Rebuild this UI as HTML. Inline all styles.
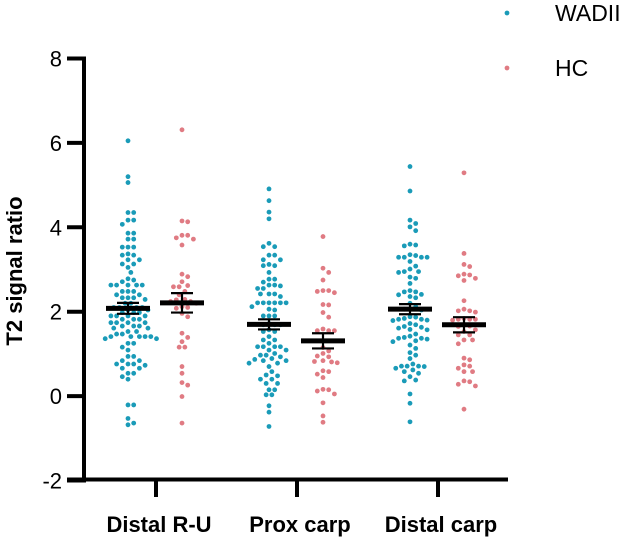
<!DOCTYPE html>
<html><head><meta charset="utf-8">
<style>
html,body{margin:0;padding:0;background:#fff;}
svg{display:block;font-family:"Liberation Sans",Arial,sans-serif;}
</style></head>
<body>
<svg id="chart" width="638" height="541" viewBox="0 0 638 541"></svg>
<script>
const categories = ["Distal R-U", "Prox carp", "Distal carp"];
const seriesNames = ["WADII", "HC"];
const yTicks = [-2, 0, 2, 4, 6, 8];
const wadiiDistalRU = [6.05,5.20,5.06,4.35,4.35,4.17,4.17,4.07,3.86,3.86,3.72,3.72,3.53,3.53,3.53,3.37,3.34,3.34,3.23,3.23,3.13,3.13,3.05,2.93,2.78,2.75,2.71,2.63,2.63,2.63,2.63,2.63,2.48,2.48,2.48,2.40,2.40,2.33,2.33,2.33,2.29,2.20,2.20,2.10,2.10,2.10,2.10,2.04,2.04,1.98,1.98,1.98,1.90,1.90,1.90,1.90,1.82,1.82,1.82,1.74,1.74,1.74,1.74,1.66,1.66,1.66,1.61,1.61,1.53,1.53,1.47,1.47,1.41,1.41,1.41,1.41,1.41,1.36,1.36,1.25,1.25,1.16,1.09,0.94,0.94,0.84,0.84,0.76,0.76,0.76,0.73,0.66,0.66,0.54,0.54,0.46,0.40,-0.21,-0.21,-0.53,-0.64,-0.68];
const hcDistalRU = [6.31,4.15,4.13,3.81,3.81,3.72,3.75,3.58,2.89,2.83,2.71,2.59,2.59,2.62,2.48,2.40,2.29,2.28,2.24,2.24,2.20,2.12,2.10,2.08,1.96,1.88,1.49,1.39,1.29,1.16,1.16,0.70,0.54,0.32,0.26,-0.01,-0.64];
const wadiiProx = [4.91,4.63,4.36,4.20,3.62,3.54,3.54,3.34,3.34,3.23,3.23,3.09,3.09,3.12,2.93,2.77,2.77,2.70,2.63,2.63,2.61,2.55,2.55,2.42,2.42,2.42,2.36,2.21,2.21,2.21,2.21,2.21,2.21,2.12,2.06,2.04,1.90,1.90,1.90,1.72,1.69,1.69,1.69,1.57,1.53,1.53,1.41,1.33,1.33,1.25,1.17,1.17,1.17,1.17,1.09,1.09,1.01,0.97,0.97,0.93,0.89,0.87,0.84,0.84,0.78,0.78,0.70,0.58,0.50,0.48,0.40,0.40,0.30,0.30,0.15,0.15,0.03,0.03,-0.23,-0.38,-0.72];
const hcProx = [3.78,3.03,2.93,2.75,2.50,2.50,2.45,2.48,2.16,2.17,1.98,1.87,1.59,1.55,1.55,1.55,1.15,1.07,1.01,0.93,0.95,0.81,0.82,0.84,0.79,0.58,0.52,0.60,0.44,0.15,0.16,0.12,0.05,-0.16,-0.47,-0.62];
const wadiiDistalCarp = [5.44,4.86,4.17,4.01,4.09,3.92,3.60,3.56,3.58,3.35,3.29,3.29,3.29,3.33,3.29,3.19,3.08,3.01,2.93,2.95,2.95,2.82,2.79,2.67,2.47,2.50,2.40,2.41,2.47,2.36,2.33,2.20,2.12,2.06,2.06,2.04,1.88,1.84,1.82,1.82,1.87,1.79,1.80,1.72,1.69,1.65,1.61,1.63,1.58,1.57,1.47,1.42,1.39,1.37,1.37,1.35,1.31,1.29,1.21,1.13,1.03,0.97,0.89,0.71,0.71,0.71,0.76,0.70,0.66,0.62,0.58,0.54,0.46,0.38,0.36,0.05,-0.17,-0.61];
const hcDistalCarp = [5.29,3.38,3.12,3.07,2.89,2.87,2.85,2.79,2.74,2.26,2.02,2.02,1.99,2.06,1.84,1.82,1.82,1.80,1.82,1.69,1.66,1.65,1.57,1.53,1.45,1.45,1.33,1.33,1.24,0.90,0.86,0.74,0.71,0.66,0.58,0.58,0.36,0.28,0.24,0.34,-0.31];
const means = [[2.08, 2.21], [1.70, 1.31], [2.06, 1.69]];
const sems = [[0.13, 0.23], [0.12, 0.18], [0.12, 0.18]];
const groups = [[wadiiDistalRU, hcDistalRU], [wadiiProx, hcProx], [wadiiDistalCarp, hcDistalCarp]];

const NS = "http://www.w3.org/2000/svg";
const svg = document.getElementById("chart");
const colors = ["#1a9bb8", "#e07b83"];
const X0 = 84, X1 = 508, Ytop = 58.5, Ybot = 480.5;
const yMin = -2, yMax = 8;
function yScale(v){ return Ybot - (v - yMin) / (yMax - yMin) * (Ybot - Ytop); }
const catTicks = [156, 297, 438];
function xCat(i){ return catTicks[i]; }
const seriesOffset = [-28, 26];
function el(tag, attrs, parent){
  const e = document.createElementNS(NS, tag);
  for (const k in attrs) e.setAttribute(k, attrs[k]);
  (parent || svg).appendChild(e);
  return e;
}

const R = 2.4, D = 5.5, STEP = 2.85;
groups.forEach((pair, ci) => {
  pair.forEach((vals, si) => {
    const g = el("g", {});
    
    
    const cx0 = xCat(ci) + seriesOffset[si];
    const placed = [];
    const sorted = vals.map(v => v).sort((a, b) => b - a);
    sorted.forEach(v => {
      const cy = yScale(v);
      let cx = cx0;
      for (let k = 0; k < 40; k++) {
        const off = (k === 0) ? 0 : (k % 2 ? 1 : -1) * Math.ceil(k / 2) * STEP;
        const tx = cx0 + off;
        if (placed.every(p => (p[0]-tx)*(p[0]-tx) + (p[1]-cy)*(p[1]-cy) >= D*D)) { cx = tx; break; }
      }
      placed.push([cx, cy]);
      const c = el("circle", {cx: cx.toFixed(2), cy: cy.toFixed(2), r: R, fill: colors[si]}, g);
      
      
    });
    const m = yScale(means[ci][si]);
    const hi = yScale(means[ci][si] + sems[ci][si]);
    const lo = yScale(means[ci][si] - sems[ci][si]);
    const ml = el("line", {x1: cx0 - 22, x2: cx0 + 22, y1: m, y2: m, stroke: "#000", "stroke-width": 5});
    
    
    const eb = el("path", {d: `M${cx0} ${hi}V${lo}M${cx0-11} ${hi}H${cx0+11}M${cx0-11} ${lo}H${cx0+11}`, stroke: "#000", "stroke-width": 2.2, fill: "none"});
    
    
  });
});

const yAxis = el("line", {x1: X0, x2: X0, y1: Ytop - 2, y2: Ybot + 2, stroke: "#000", "stroke-width": 4});


const xAxis = el("line", {x1: 67, x2: X1, y1: Ybot - 1, y2: Ybot - 1, stroke: "#000", "stroke-width": 4});


yTicks.forEach(t => {
  const y = yScale(t);
  const tk = el("line", {x1: 67, x2: X0, y1: y, y2: y, stroke: "#000", "stroke-width": 4});
  
  
  const tx = el("text", {x: 62, y: y + 8, "text-anchor": "end", "font-size": 22, fill: "#000"});
  tx.textContent = String(t);
  
  
});
categories.forEach((c, i) => {
  const x = xCat(i);
  const tk = el("line", {x1: x, x2: x, y1: Ybot, y2: 497, stroke: "#000", "stroke-width": 4});
  
  
  const tx = el("text", {x: x + 3, y: 532, "text-anchor": "middle", "font-size": 22, "font-weight": "bold", fill: "#000"});
  tx.textContent = c;
  
  
});
const yt = el("text", {x: 0, y: 0, transform: "translate(22,271) rotate(-90)", "text-anchor": "middle", "font-size": 22, "font-weight": "bold", fill: "#000"});
yt.textContent = "T2 signal ratio";



seriesNames.forEach((n, i) => {
  const y = [13, 68][i];
  const g = el("g", {});
  
  
  el("circle", {cx: 507, cy: y, r: 2.4, fill: colors[i]}, g);
  const t = el("text", {x: 555, y: y + 8, "font-size": 23, fill: "#000"}, g);
  t.textContent = n;
});
</script>
</body></html>
